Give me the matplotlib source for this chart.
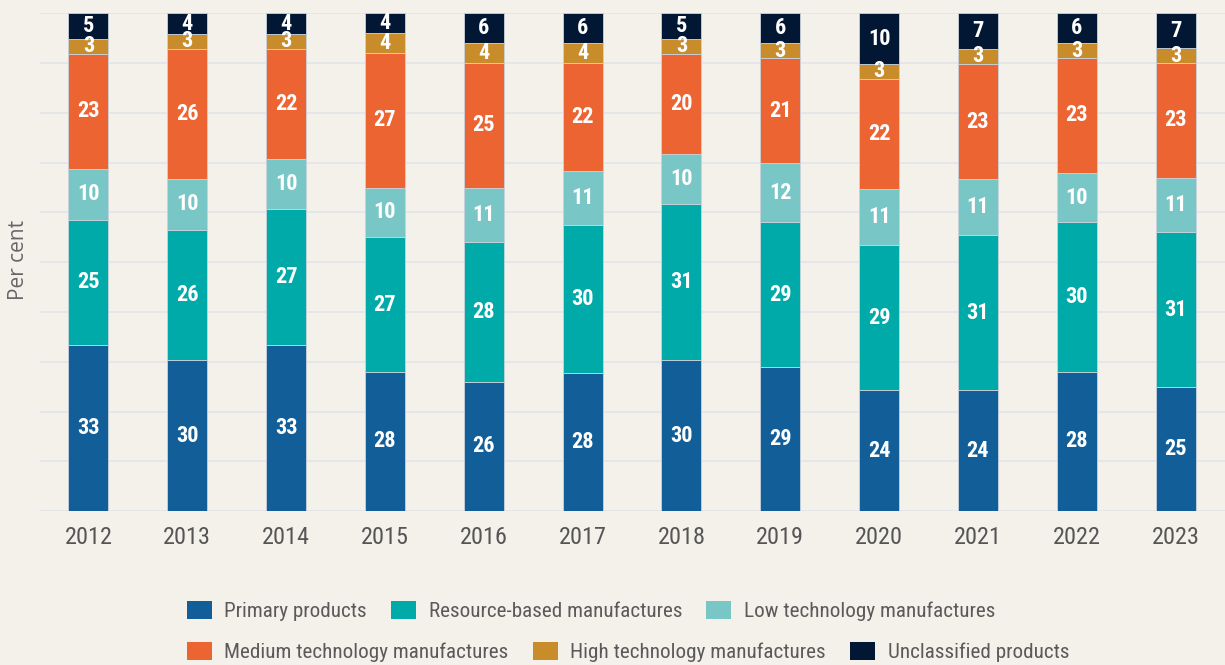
import matplotlib.pyplot as plt
import numpy as np
from matplotlib.patches import Patch

years = ['2012', '2013', '2014', '2015', '2016', '2017',
         '2018', '2019', '2020', '2021', '2022', '2023']

# shares of exports by technology group, per cent (rounded)
primary = [33, 30, 33, 28, 26, 28, 30, 29, 24, 24, 28, 25]
resource_based = [25, 26, 27, 27, 28, 30, 31, 29, 29, 31, 30, 31]
low_tech = [10, 10, 10, 10, 11, 11, 10, 12, 11, 11, 10, 11]
medium_tech = [23, 26, 22, 27, 25, 22, 20, 21, 22, 23, 23, 23]
high_tech = [3, 3, 3, 4, 4, 4, 3, 3, 3, 3, 3, 3]
unclassified = [5, 4, 4, 4, 6, 6, 5, 6, 10, 7, 6, 7]

series = [
    ('Primary products', primary, '#115e99'),
    ('Resource-based manufactures', resource_based, '#00aaa8'),
    ('Low technology manufactures', low_tech, '#79c6c6'),
    ('Medium technology manufactures', medium_tech, '#ec6431'),
    ('High technology manufactures', high_tech, '#c98c2b'),
    ('Unclassified products', unclassified, '#021733'),
]

plt.rcParams['font.family'] = ['Roboto Condensed', 'DejaVu Sans']
plt.rcParams['font.stretch'] = 'condensed'
bg = '#f4f1eb'

fig = plt.figure(figsize=(12.25, 6.65), dpi=100, facecolor=bg)
ax = fig.add_axes([40 / 1225, 154 / 665, 1185 / 1225, 497.5 / 665])
ax.set_facecolor(bg)

x = np.arange(len(years))
totals = np.sum([s[1] for s in series], axis=0)
bottom = np.zeros(len(years))
for name, vals, color in series:
    vals = np.array(vals, dtype=float)
    # scale rounded shares so that each bar fills 100 per cent
    h = vals / totals * 100
    ax.bar(x, h, 0.405, bottom=bottom, color=color,
           edgecolor='#c9d3dc', linewidth=0.6, zorder=3)
    for xi, b, hi, v in zip(x, bottom, h, vals):
        ax.text(xi, b + hi / 2, f'{int(v)}', ha='center', va='center',
                color='white', fontsize=16, fontweight='bold', zorder=4)
    bottom += h

ax.set_xlim(-0.49, 11.5)
ax.set_ylim(0, 100)
ax.set_yticks(np.arange(0, 101, 10))
ax.yaxis.grid(True, color='#e3e4ea', linewidth=1.2, zorder=0)
ax.tick_params(axis='y', length=0, labelleft=False)
ax.tick_params(axis='x', length=0, pad=11, labelsize=17.5, labelcolor='#555555')
ax.set_xticks(x)
ax.set_xticklabels(years)
for s in ax.spines.values():
    s.set_visible(False)

fig.text(18 / 1225, 1 - 260 / 665, 'Per cent', rotation=90, ha='center',
         va='center', fontsize=15, color='#666666', family='Open Sans',
         fontstretch='normal')

handles = [Patch(facecolor=c, edgecolor='none', label=n) for n, _, c in series]
rows = [(handles[:3], 611), (handles[3:], 652)]
for hs, ypix in rows:
    fig.legend(handles=hs, loc='center left', ncol=3, frameon=False,
               bbox_to_anchor=(187 / 1225, 1 - ypix / 665),
               borderaxespad=0, borderpad=0, fontsize=15.2,
               handlelength=1.17, handleheight=0.9, handletextpad=0.6,
               columnspacing=1.15, labelcolor='#5a5a5a')

fig.savefig('out.png', dpi=100, facecolor=bg)
